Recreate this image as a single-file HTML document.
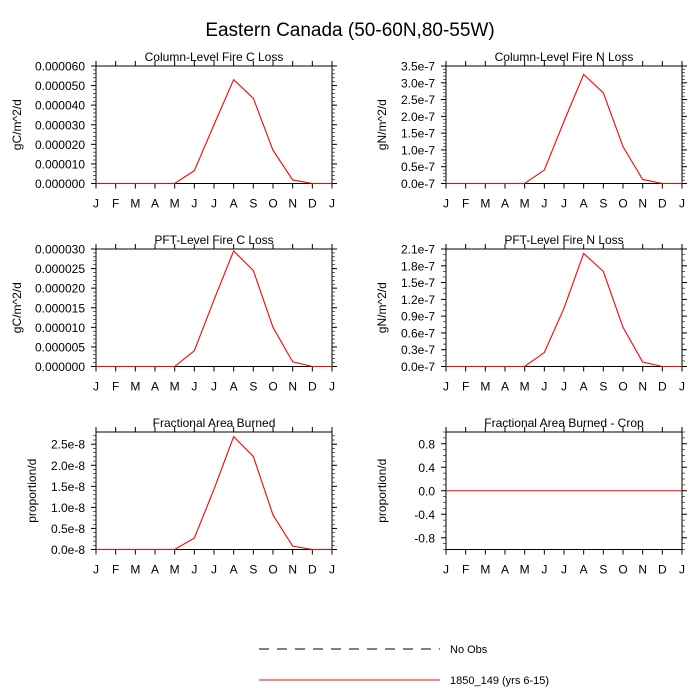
<!DOCTYPE html>
<html><head><meta charset="utf-8">
<style>
body{margin:0;background:#fff;}
svg{display:block;font-family:"Liberation Sans",Arial,sans-serif;}
</style></head>
<body>
<svg id="chart" width="700" height="700" viewBox="0 0 700 700">
<text x="350" y="36" text-anchor="middle" font-size="19">Eastern Canada (50-60N,80-55W)</text>
<g>
<line x1="259" y1="649" x2="440" y2="649" stroke="#000" stroke-dasharray="10,8"/>
<text x="450" y="653" font-size="11">No Obs</text>
<line x1="259" y1="680" x2="440" y2="680" stroke="#ff0000"/>
<text x="450" y="684" font-size="11">1850_149 (yrs 6-15)</text>
</g>
</svg>
<script>
const months = ["J","F","M","A","M","J","J","A","S","O","N","D","J"];
const colCLoss = [0,0,0,0,0,0.65,3.0,5.3,4.35,1.7,0.18,0,0];      // x1e-5
const colNLoss = [0,0,0,0,0,0.4,1.85,3.25,2.7,1.1,0.12,0,0];       // x1e-7
const pftCLoss = [0,0,0,0,0,0.4,1.7,2.95,2.45,1.0,0.12,0,0];       // x1e-5
const pftNLoss = [0,0,0,0,0,0.25,1.04,2.02,1.70,0.70,0.08,0,0];    // x1e-7
const areaBurned = [0,0,0,0,0,0.27,1.43,2.68,2.21,0.82,0.08,0,0];  // x1e-8
const areaCrop = [0,0,0,0,0,0,0,0,0,0,0,0,0];
const ticksC1 = ["0.000000","0.000010","0.000020","0.000030","0.000040","0.000050","0.000060"];
const ticksN1 = ["0.0e-7","0.5e-7","1.0e-7","1.5e-7","2.0e-7","2.5e-7","3.0e-7","3.5e-7"];
const ticksC2 = ["0.000000","0.000005","0.000010","0.000015","0.000020","0.000025","0.000030"];
const ticksN2 = ["0.0e-7","0.3e-7","0.6e-7","0.9e-7","1.2e-7","1.5e-7","1.8e-7","2.1e-7"];
const ticksA = ["0.0e-8","0.5e-8","1.0e-8","1.5e-8","2.0e-8","2.5e-8"];
const ticksCrop = ["-0.8","-0.4","0.0","0.4","0.8"];

const NS="http://www.w3.org/2000/svg";
const svg=document.getElementById('chart');
function el(tag,attrs,parent){const e=document.createElementNS(NS,tag);for(const k in attrs)e.setAttribute(k,attrs[k]);(parent||svg).appendChild(e);return e;}

const panels=[
 {name:"col-c-loss",title:"Column-Level Fire C Loss",ylab:"gC/m^2/d",x0:96,y0:66,data:colCLoss,ymin:0,ymax:6,tickVals:[0,1,2,3,4,5,6],tickLabels:ticksC1,minor:5},
 {name:"col-n-loss",title:"Column-Level Fire N Loss",ylab:"gN/m^2/d",x0:446,y0:66,data:colNLoss,ymin:0,ymax:3.5,tickVals:[0,0.5,1,1.5,2,2.5,3,3.5],tickLabels:ticksN1,minor:5},
 {name:"pft-c-loss",title:"PFT-Level Fire C Loss",ylab:"gC/m^2/d",x0:96,y0:249,data:pftCLoss,ymin:0,ymax:3,tickVals:[0,0.5,1,1.5,2,2.5,3],tickLabels:ticksC2,minor:5},
 {name:"pft-n-loss",title:"PFT-Level Fire N Loss",ylab:"gN/m^2/d",x0:446,y0:249,data:pftNLoss,ymin:0,ymax:2.1,tickVals:[0,0.3,0.6,0.9,1.2,1.5,1.8,2.1],tickLabels:ticksN2,minor:3},
 {name:"area-burned",title:"Fractional Area Burned",ylab:"proportion/d",x0:96,y0:432,data:areaBurned,ymin:0,ymax:2.79,tickVals:[0,0.5,1,1.5,2,2.5],tickLabels:ticksA,minor:5},
 {name:"area-burned-crop",title:"Fractional Area Burned - Crop",ylab:"proportion/d",x0:446,y0:432,data:areaCrop,ymin:-1,ymax:1,tickVals:[-0.8,-0.4,0,0.4,0.8],tickLabels:ticksCrop,minor:4}
];
const W=236,H=117.5;
panels.forEach(p=>{
  const g=el('g',{});
  
  
  const xs=i=>p.x0+i*W/12;
  const ys=v=>p.y0+H-(v-p.ymin)/(p.ymax-p.ymin)*H;
  const t=el('text',{x:p.x0+W/2,y:p.y0-5,'text-anchor':'middle','font-size':'12'},g);
  t.textContent=p.title;
  
  
  months.forEach((m,i)=>{
    const x=xs(i);
    el('line',{x1:x,y1:p.y0+H,x2:x,y2:p.y0+H+5,stroke:'#000'},g);
    el('line',{x1:x,y1:p.y0,x2:x,y2:p.y0-5,stroke:'#000'},g);
    const lt=el('text',{x:x,y:p.y0+H+24,'text-anchor':'middle','font-size':'12'},g);
    lt.textContent=m;
    
    
  });
  const step=p.tickVals.length>1?p.tickVals[1]-p.tickVals[0]:1;
  for(let v=p.ymin;v<=p.ymax+1e-9;v+=step/p.minor){
    const y=ys(v);
    el('line',{x1:p.x0,y1:y,x2:p.x0-3,y2:y,stroke:'#000','stroke-width':0.6},g);
    el('line',{x1:p.x0+W,y1:y,x2:p.x0+W+3,y2:y,stroke:'#000','stroke-width':0.6},g);
  }
  p.tickVals.forEach((v,i)=>{
    const y=ys(v);
    el('line',{x1:p.x0,y1:y,x2:p.x0-5,y2:y,stroke:'#000'},g);
    el('line',{x1:p.x0+W,y1:y,x2:p.x0+W+5,y2:y,stroke:'#000'},g);
    const lt=el('text',{x:p.x0-11,y:y+4.5,'text-anchor':'end','font-size':'12'},g);
    lt.textContent=p.tickLabels[i];
    
    
  });
  const yl=el('text',{x:0,y:0,'text-anchor':'middle','font-size':'12',transform:`translate(${p.x0-(p.ylab.startsWith('gC')?75:60)},${p.y0+H/2}) rotate(-90)`},g);
  yl.textContent=p.ylab;
  
  
  const fr=el('rect',{x:p.x0,y:p.y0,width:W,height:H,fill:'none',stroke:'#000','stroke-width':1},g);
  
  
  const line=el('polyline',{points:p.data.map((v,i)=>xs(i)+','+ys(v)).join(' '),fill:'none',stroke:'#ff0000','stroke-width':1.1},g);
  
  
});
</script>
</body></html>
